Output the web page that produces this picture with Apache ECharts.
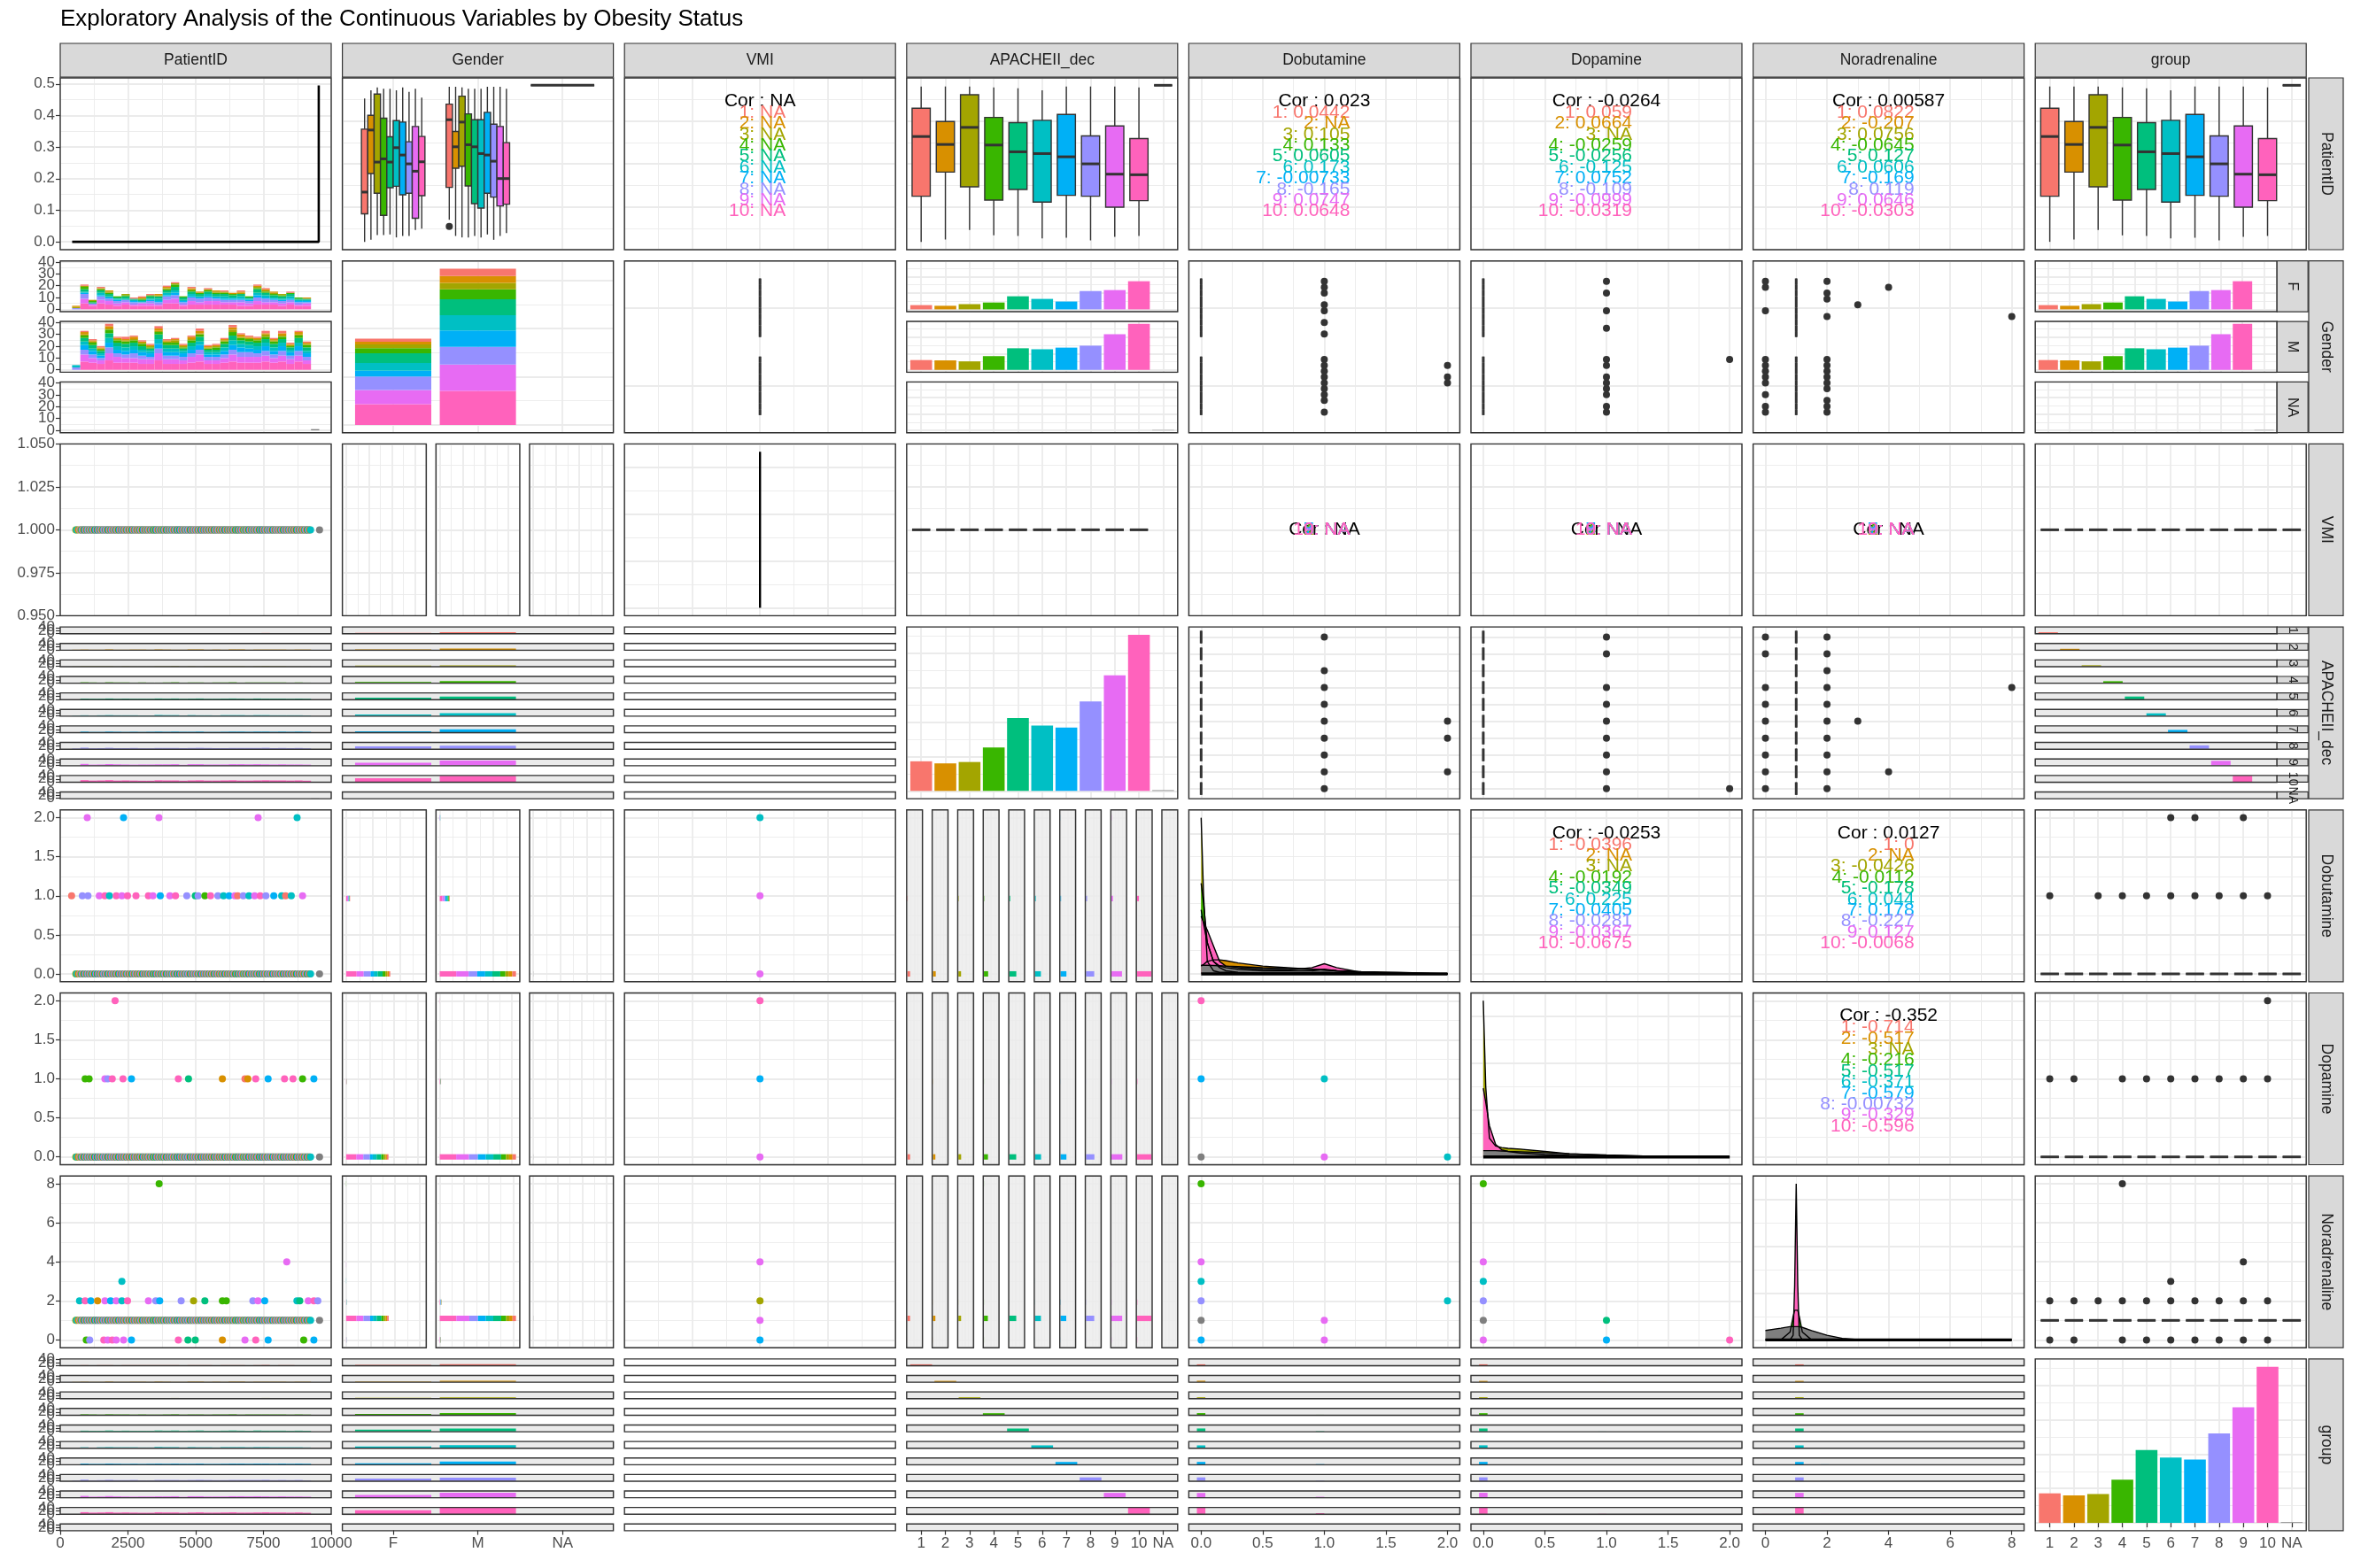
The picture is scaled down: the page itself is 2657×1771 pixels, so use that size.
<!DOCTYPE html>
<html>
<head>
<meta charset="utf-8">
<title>Exploratory Analysis</title>
<script src="https://cdn.jsdelivr.net/npm/echarts@6.0.0/dist/echarts.min.js"></script>
<style>
html,body{margin:0;padding:0;background:#ffffff;}
#chart{width:2657px;height:1771px;}
</style>
</head>
<body>
<div id="chart"></div>
<script>
// ======================= DATA =======================
const titleText = 'Exploratory Analysis of the Continuous Variables by Obesity Status';
const variableNames = ['PatientID','Gender','VMI','APACHEII_dec','Dobutamine','Dopamine','Noradrenaline','group'];
const groupLevels = ['1','2','3','4','5','6','7','8','9','10','NA'];
const genderLevels = ['F','M','NA'];
const groupColors = ['#F8766D','#D89000','#A3A500','#39B600','#00BF7D','#00BFC4','#00B0F6','#9590FF','#E76BF3','#FF62BC'];
const naColor = '#7F7F7F';

// patients per gender and group (group 1..10)
const countF = [13,11,16,21,40,32,24,56,59,86];
const countM = [30,29,26,42,66,63,68,74,109,141];
const countNA = 1; // one patient with NA gender / NA group

// PatientID histogram (30 bins), counts per bin per group
const pidBinStart = 438, pidBinWidth = 304, pidNABin = 29;
const pidHistF = [
 [0,1,1,0,0,0,0,1,0,0],[1,0,1,2,2,1,1,4,4,5],[0,0,1,1,1,0,0,1,1,3],[1,0,1,1,2,2,1,3,3,5],
 [0,1,1,1,2,1,1,2,3,4],[0,0,0,1,1,1,1,2,2,3],[0,0,1,1,2,1,0,2,2,4],[1,0,0,0,1,1,1,2,1,3],
 [1,1,0,1,1,1,0,1,2,3],[1,0,0,1,2,1,1,2,2,3],[0,1,1,0,2,2,1,2,1,3],[1,1,1,1,2,2,1,3,3,5],
 [1,0,1,2,3,2,2,3,4,5],[0,0,0,1,2,1,1,2,1,3],[1,1,1,1,2,2,1,3,3,4],[0,1,0,1,2,1,1,3,2,4],
 [1,0,1,1,2,2,1,3,3,4],[0,1,1,1,2,1,1,2,3,4],[1,0,1,1,2,2,1,2,2,4],[0,1,0,1,2,1,1,2,2,4],
 [1,1,1,0,2,2,1,2,3,3],[0,0,0,1,1,1,1,2,2,3],[1,1,1,1,3,2,2,3,3,4],[1,1,1,1,2,2,1,3,2,4],
 [0,1,1,1,2,1,1,2,2,4],[0,0,1,1,2,1,1,2,2,3],[1,0,0,1,2,2,1,2,2,4],[0,0,0,1,1,1,1,2,1,3],
 [0,1,0,0,1,1,1,1,2,3]];
const pidHistM = [
 [0,0,0,0,0,2,0,2,0,0],[1,2,1,2,3,3,4,4,6,7],[1,1,1,2,3,2,3,3,4,6],[1,1,1,1,2,2,2,2,3,5],
 [2,2,1,3,4,4,4,5,6,8],[1,1,1,2,3,3,3,3,5,6],[2,1,1,2,3,3,3,3,4,6],[1,2,1,2,3,3,3,4,4,6],
 [1,1,1,2,3,2,3,3,4,5],[1,1,1,1,2,2,3,2,4,5],[2,2,1,2,4,4,4,4,6,8],[1,1,1,2,3,3,3,3,4,5],
 [1,1,2,2,3,3,3,3,4,5],[1,1,1,1,2,2,3,3,3,5],[1,2,1,2,3,3,3,3,5,6],[2,2,1,2,4,3,4,4,6,7],
 [1,1,1,1,2,2,2,3,3,5],[1,1,1,2,2,2,2,3,3,5],[1,1,1,2,3,3,3,3,4,6],[2,2,2,3,4,4,4,4,6,7],
 [1,2,1,2,3,3,4,4,5,6],[1,1,1,2,3,3,3,4,5,6],[1,1,1,2,3,3,3,3,5,6],[2,1,2,2,3,3,4,4,5,7],
 [1,1,1,2,3,3,3,3,4,6],[2,2,1,2,3,3,4,4,5,7],[1,1,1,1,2,2,3,3,4,5],[1,2,1,2,4,3,4,4,5,7],
 [1,1,1,2,3,2,3,3,3,5]];

// PatientID boxplot statistics [lower whisker, Q1, median, Q3, upper whisker]
const pidBoxByGroup = [
 [456,3111,6588,8233,9501],[593,4516,6126,7462,9501],[1141,3659,7120,9021,9501],[833,2888,6092,7702,9449],
 [799,3505,5698,7394,9398],[662,2768,5595,7531,9278],[696,3163,5407,7873,9501],[542,3111,4996,6623,9501],
 [747,2477,4396,7205,9501],[799,2854,4362,6469,9449]];
const pidBoxF = [
 [456,2084,3352,7017,8799],[576,4431,6966,7822,9279],[850,3283,5099,9056,9450],[850,1998,5287,7651,9364],
 [885,3609,5099,6573,9364],[713,3694,5938,7514,9279],[799,3197,5510,7429,9450],[799,3283,4996,6281,9193],
 [1142,1827,4568,7172,9364],[1227,3146,5116,6590,8850]];
const pidBoxM = [
 [1741,3626,7565,8473,9484],[799,4739,5989,6881,9484],[713,4859,7429,8936,9450],[713,3711,6110,7908,9364],
 [799,2683,5989,7565,9364],[713,2426,5596,7565,9364],[885,3283,5510,7994,9484],[576,3060,5150,7309,9484],
 [799,2546,4139,7172,9484],[970,2649,4139,6229,9364]];
const pidOutliersM = [[1,1347]];   // [group, PatientID]
const pidNAValue = 9570;

// densities (diagonal)
const pidDensX = [440, 9540, 9540];
const pidDensY = [0, 0, 0.495];
const vmiDensX = [1, 1];
const vmiDensY = [0, 1];
const dobDensX = [0,0.02,0.05,0.1,0.15,0.2,0.3,0.5,0.7,0.9,1.0,1.1,1.3,1.6,2.0];
const dobDensG3  = [1.0,0.5,0.08,0.02,0.01,0.01,0.005,0.005,0.005,0.005,0.005,0.005,0,0,0];
const dobDensG4  = [0.58,0.45,0.2,0.08,0.04,0.02,0.01,0.005,0.005,0.008,0.01,0.008,0.003,0.001,0];
const dobDensG5  = [0.41,0.32,0.2,0.08,0.05,0.04,0.03,0.02,0.02,0.02,0.03,0.02,0.01,0.005,0];
const dobDensG2  = [0.05,0.06,0.08,0.09,0.09,0.085,0.07,0.05,0.04,0.03,0.025,0.02,0.015,0.01,0];
const dobDensG10 = [0.37,0.33,0.28,0.18,0.08,0.05,0.04,0.03,0.025,0.04,0.065,0.04,0.01,0.005,0];
const dobDensNA  = [0.055,0.055,0.055,0.054,0.052,0.05,0.047,0.04,0.035,0.03,0.025,0.02,0.01,0.005,0];
const dopDensX = [0,0.02,0.05,0.1,0.15,0.2,0.3,0.5,0.7,1.0,1.3,1.6,2.0];
const dopDensG3  = [1.0,0.45,0.12,0.07,0.06,0.055,0.05,0.035,0.02,0.01,0.005,0.002,0];
const dopDensG10 = [0.44,0.35,0.2,0.08,0.045,0.035,0.025,0.015,0.01,0.005,0.002,0.001,0];
const dopDensNA  = [0.04,0.04,0.04,0.04,0.038,0.036,0.033,0.027,0.02,0.012,0.006,0.002,0];
const norDensX = [0,0.5,0.8,0.9,0.95,1.0,1.05,1.1,1.2,1.5,2.0,2.5,3.0,4.0,8.0];
const norDensG4  = [0,0,0.05,0.15,0.19,0.2,0.19,0.15,0.05,0,0,0,0,0,0];
const norDensG10 = [0,0,0,0.03,0.35,1.0,0.35,0.03,0,0,0,0,0,0,0];
const norDensNA  = [0.06,0.075,0.085,0.085,0.085,0.085,0.085,0.085,0.08,0.06,0.03,0.01,0.003,0,0];

// drug values other than the usual one, counts per group (1..10)
const dobutamine1F = [2,0,2,0,3,3,0,5,6,8];
const dobutamine1M = [3,0,3,4,7,8,8,10,14,18];
const dobutamine2F = [0,0,0,0,0,0,0,0,0,0];
const dobutamine2M = [0,0,0,0,0,1,1,0,2,0];
const dopamine1F = [0,1,0,0,1,0,0,1,0,2];
const dopamine1M = [1,1,0,1,1,1,1,0,2,3];
const dopamine2F = [0,0,0,0,0,0,0,0,0,0];
const dopamine2M = [0,0,0,0,0,0,0,0,0,1];
const noradrenaline0F = [0,0,0,0,1,0,0,0,1,1];
const noradrenaline0M = [1,1,0,1,0,1,1,1,1,2];
const noradrenaline2F = [0,0,0,1,0,0,1,1,0,1];
const noradrenaline2M = [1,1,1,0,1,2,2,2,2,3];
const noradrenaline3F = [0,0,0,0,0,1,0,0,0,0];
const noradrenaline3M = [0,0,0,0,0,0,0,0,0,0];
const noradrenaline4F = [0,0,0,0,0,0,0,0,1,0];
const noradrenaline4M = [0,0,0,0,0,0,0,0,0,0];
const noradrenaline8F = [0,0,0,1,0,0,0,0,0,0];
const noradrenaline8M = [0,0,0,0,0,0,0,0,0,0];

// scatter points vs PatientID : [PatientID, group]
const dobutamine1Points = [[420,1],[816,8],[1024,8],[1441,9],[1649,10],[1816,6],[2066,10],[2275,9],[2483,10],[2796,10],[3254,10],[3421,9],[3692,7],[4046,9],[4254,10],[4671,8],[4984,5],[5088,8],[5338,4],[5546,10],[5817,8],[6026,6],[6234,7],[6443,9],[6547,1],[6755,8],[6964,6],[7172,9],[7380,10],[7589,8],[7881,7],[8172,6],[8318,1],[8527,6],[8943,9]];
const dobutamine2Points = [[997,9],[2336,7],[3642,9],[7303,9],[8741,6]];
const dopamine1Points = [[920,4],[1066,4],[1649,9],[1754,8],[1920,10],[2316,10],[2629,7],[4359,10],[4734,5],[5984,2],[6818,1],[6922,2],[7214,10],[7672,7],[8277,10],[8590,10],[8943,4],[9360,7]];
const dopamine2Points = [[2025,10]];
const noradrenaline0Points = [[962,4],[1087,8],[1608,10],[1754,9],[1920,10],[2066,9],[2337,9],[2629,7],[4359,10],[4713,5],[4984,5],[5984,2],[6818,9],[7214,10],[7672,7],[8985,4],[9360,7]];
const noradrenaline2Points = [[712,6],[920,10],[1128,7],[1378,2],[1649,9],[1858,7],[2066,9],[2275,6],[2483,10],[3254,9],[3525,8],[3671,7],[4463,8],[4921,3],[5338,5],[5984,4],[6130,4],[7109,8],[7297,9],[7547,7],[8735,6],[8839,5],[9152,9],[9360,10],[9506,8]];
const noradrenaline3Points = [[2275,6]];
const noradrenaline4Points = [[8360,9]];
const noradrenaline8Points = [[3650,4]];

// VMI (always 1) vs drug : [drug value, group shown on top]
const vmiDobutamine = [[0,9],[1,9],[2,6]];
const vmiDopamine = [[0,9],[1,7],[2,10]];
const vmiNoradrenaline = [[0,7],[1,9],[2,3],[4,9]];

// drug vs drug : [x, y, group] (11 = NA)
const dobutamineDopamine = [[0,2,10],[0,1,7],[0,0,11],[1,1,6],[1,0,9],[2,0,6]];
const dobutamineNoradrenaline = [[0,8,4],[0,4,9],[0,3,6],[0,2,8],[0,1,11],[0,0,7],[1,1,9],[1,0,9],[2,2,6]];
const dopamineNoradrenaline = [[0,8,4],[0,4,9],[0,3,6],[0,2,8],[0,1,11],[0,0,9],[1,1,5],[1,0,7],[2,0,10]];

// correlations: overall, then groups 1..10
const corPatientIDVMI = ['NA','NA','NA','NA','NA','NA','NA','NA','NA','NA','NA'];
const corPatientIDDobutamine = ['0.023','0.0442','NA','0.105','0.133','0.0605','0.173','-0.00733','-0.165','0.0747','0.0648'];
const corPatientIDDopamine = ['-0.0264','0.059','0.0664','NA','-0.0259','-0.0256','-0.125','0.0752','-0.109','-0.0999','-0.0319'];
const corPatientIDNoradrenaline = ['0.00587','0.0822','-0.207','0.0756','-0.0645','0.127','0.0606','-0.169','0.119','0.0646','-0.0303'];
const corVMIDobutamine = ['NA','NA','NA','NA','NA','NA','NA','NA','NA','NA','NA'];
const corVMIDopamine = ['NA','NA','NA','NA','NA','NA','NA','NA','NA','NA','NA'];
const corVMINoradrenaline = ['NA','NA','NA','NA','NA','NA','NA','NA','NA','NA','NA'];
const corDobutamineDopamine = ['-0.0253','-0.0396','NA','NA','-0.0192','-0.0349','0.225','-0.0405','-0.0281','-0.0367','-0.0675'];
const corDobutamineNoradrenaline = ['0.0127','0','NA','-0.0426','-0.0112','-0.178','0.044','0.178','-0.227','0.127','-0.0068'];
const corDopamineNoradrenaline = ['-0.352','-0.714','-0.517','NA','-0.216','-0.517','-0.371','-0.579','-0.00732','-0.329','-0.596'];

// ======================= BUILD =======================
const FONT = "'Liberation Sans', Arial, Helvetica, sans-serif";
const COL = groupColors.concat([naColor]);
const NAI = 10;
const G10 = [0,1,2,3,4,5,6,7,8,9];
const PW = 306, PH = 194, GAP = 11;
const colX = j => 68 + j * 318.6;
const rowY = i => 88 + i * 206.7;
const RSX = 2607, RSW = 39;
const TINY_BG = '#EBEBEB', NARROW_BG = '#EFEFEF';

const grids = [], xAxis = [], yAxis = [], extraY = [], series = [], gfx = [];

const AX = {
  pid:    {min:0, max:10000, interval:2500, minor:true, ticks:[0,2500,5000,7500,10000], fmt:v=>String(v)},
  pidV:   {min:0, max:10000, interval:2500, minor:true},
  pidDens:{min:-0.025, max:0.519, splitNumber:5, minor:true, ticks:[0,0.1,0.2,0.3,0.4,0.5], fmt:v=>v.toFixed(1)},
  vmi:    {min:0.95, max:1.05, interval:0.025, minor:true, ticks:[0.95,0.975,1,1.025,1.05], fmt:v=>v.toFixed(3)},
  drug:   {min:-0.1, max:2.1, splitNumber:4, minor:true, ticks:[0,0.5,1,1.5,2], fmt:v=>v.toFixed(1)},
  nor:    {min:-0.4, max:8.4, splitNumber:4, minor:true, ticks:[0,2,4,6,8], fmt:v=>String(v)},
  gender3:{min:0.4, max:3.6, splitNumber:3, ticks:[1,2,3], fmt:v=>genderLevels[Math.round(v)-1]},
  gender2:{min:0.4, max:2.6, splitNumber:2, inverse:true},
  cat11:  {min:0.4, max:11.6, splitNumber:11, ticks:[1,2,3,4,5,6,7,8,9,10,11], fmt:v=>groupLevels[Math.round(v)-1]},
  cat10r: {min:0.4, max:10.6, splitNumber:10, inverse:true},
  dens:   {min:-0.05, max:1.05, splitNumber:4, minor:true},
  cnt40:  {min:-2, max:41, splitNumber:4, minor:true, ticks:[0,10,20,30,40], groups:[[0,20,40],[10,30]], fmt:v=>String(v)},
  cnt44:  {min:-2.2, max:44, splitNumber:2, minor:true, ticks:[0,20,40], groups:[[0],[20],[40]], fmt:v=>String(v)},
  unit:   {min:-0.05, max:1.05, splitNumber:4, minor:true},
  none:   {min:0, max:1, grid:false}
};
const cnt = (m, s) => ({min:-0.05*m, max:1.05*m, splitNumber:s||3, minor:true});

function axisFrom(spec, gi, show, pos, tickList, labelOnly) {
  const ticks = tickList || spec.ticks || [];
  const fmt = spec.fmt || (v => String(v));
  const lab = v => { for (const t of ticks) { if (Math.abs(v - t) < 1e-7 * Math.max(1, Math.abs(t))) return fmt(t); } return ''; };
  const gridOn = spec.grid !== false && !labelOnly;
  const a = {
    type:'value', gridIndex:gi, position:pos, offset:0, min:spec.min, max:spec.max, inverse:!!spec.inverse,
    axisLine:{show:false},
    axisTick:{show:!!show, length:5, interval:0, lineStyle:{color:'#333333', width:1.2}},
    axisLabel:{show:!!show, color:'#4D4D4D', fontSize:17, fontFamily:FONT, margin:6, formatter:lab, interval:0,
      showMinLabel:true, showMaxLabel:true, hideOverlap:false},
    splitLine:{show: gridOn, lineStyle:{color:'#EBEBEB', width:1.8}},
    minorTick:{show:false, splitNumber:2},
    minorSplitLine:{show: !!spec.minor && gridOn, lineStyle:{color:'#EBEBEB', width:0.9}},
    silent:true
  };
  if (show && ticks.length) { a.axisLabel.customValues = ticks; a.axisTick.customValues = ticks; }
  if (spec.interval) a.interval = spec.interval;
  if (spec.splitNumber) a.splitNumber = spec.splitNumber;
  return a;
}
function addGrid(x, y, w, h, xs, ys, o) {
  o = o || {};
  const gi = grids.length;
  grids.push({left:x, top:y, width:w, height:h, show:true, backgroundColor:o.bg || '#FFFFFF', borderWidth:0});
  xAxis.push(axisFrom(xs, gi, o.xLab, 'bottom'));
  if (o.yLab && ys.groups) {
    yAxis.push(axisFrom(ys, gi, true, 'left', ys.groups[0]));
    ys.groups.slice(1).forEach(grp => extraY.push(axisFrom(ys, gi, true, 'left', grp, true)));
  } else {
    yAxis.push(axisFrom(ys, gi, o.yLab, 'left'));
  }
  gfx.push({type:'rect', silent:true, z:60, shape:{x:x, y:y, width:w, height:h}, style:{fill:'rgba(0,0,0,0)', stroke:'#333333', lineWidth:1.4}});
  return gi;
}
function vfacets(x, y, w, n, xs, ys, o) {
  o = o || {};
  const h = (PH - (n-1)*GAP)/n, ids = [];
  for (let k=0; k<n; k++) ids.push(addGrid(x, y + k*(h+GAP), w, h, xs, ys, {xLab: o.xLab && k===n-1, yLab: o.yLab, bg:o.bg}));
  return ids;
}
function hfacets(x, y, n, xs, ys, o) {
  o = o || {};
  const w = (PW - (n-1)*GAP)/n, ids = [];
  for (let k=0; k<n; k++) ids.push(addGrid(x + k*(w+GAP), y, w, PH, xs, ys, {xLab: o.xLab, yLab: o.yLab && k===0, bg:o.bg}));
  return ids;
}
function txt(x, y, text, color, size, align, rot) {
  return {type:'text', x:x, y:y, rotation:rot||0, silent:true, z:70,
    style:{text:text, fill:color, fontSize:size, fontFamily:FONT, align:align, verticalAlign:'middle'}};
}
function rectRender(params, api) {
  const a = api.coord([api.value(0), api.value(2)]);
  const b = api.coord([api.value(1), api.value(3)]);
  return {type:'rect', shape:{x:Math.min(a[0],b[0]), y:Math.min(a[1],b[1]), width:Math.abs(b[0]-a[0]), height:Math.abs(b[1]-a[1])},
    style:{fill:COL[api.value(4)]}};
}
function boxRender(params, api) {
  const v = i => api.value(i);
  const pos=v(0), hw=v(1), lo=v(2), q1=v(3), med=v(4), q3=v(5), hi=v(6), ci=v(7), hor=v(8);
  const P = (c, val) => hor ? api.coord([val, c]) : api.coord([c, val]);
  const a = P(pos-hw, q1), b = P(pos+hw, q3), m1 = P(pos-hw, med), m2 = P(pos+hw, med);
  const w1 = P(pos, lo), w2 = P(pos, q1), w3 = P(pos, q3), w4 = P(pos, hi);
  const ls = {stroke:'#333333', lineWidth:1.4};
  return {type:'group', children:[
    {type:'line', shape:{x1:w1[0], y1:w1[1], x2:w2[0], y2:w2[1]}, style:ls},
    {type:'line', shape:{x1:w3[0], y1:w3[1], x2:w4[0], y2:w4[1]}, style:ls},
    {type:'rect', shape:{x:Math.min(a[0],b[0]), y:Math.min(a[1],b[1]), width:Math.abs(b[0]-a[0]), height:Math.abs(b[1]-a[1])},
      style:{fill:COL[ci], stroke:'#333333', lineWidth:1.4}},
    {type:'line', shape:{x1:m1[0], y1:m1[1], x2:m2[0], y2:m2[1]}, style:{stroke:'#333333', lineWidth:3}}
  ]};
}
function addRects(gi, data) {
  if (!data.length) return;
  series.push({type:'custom', coordinateSystem:'cartesian2d', xAxisIndex:gi, yAxisIndex:gi, renderItem:rectRender, data:data, silent:true, z:2});
}
function addBoxes(gi, data) {
  series.push({type:'custom', coordinateSystem:'cartesian2d', xAxisIndex:gi, yAxisIndex:gi, renderItem:boxRender, data:data, silent:true, z:3});
}
function addPoints(gi, data, size) {
  if (!data.length) return;
  series.push({type:'scatter', xAxisIndex:gi, yAxisIndex:gi, data:data, symbol:'circle', symbolSize:size||8, silent:true, z:4, itemStyle:{opacity:1}});
}
function addLine(gi, xs, ys, fill, width) {
  const s = {type:'line', xAxisIndex:gi, yAxisIndex:gi, data:xs.map((x,i)=>[x, ys[i]]), symbol:'none', silent:true, z:3,
    lineStyle:{color:'#000000', width:width||1.4}};
  if (fill) s.areaStyle = {color:fill, opacity:1};
  series.push(s);
}
const pt = (x, y, ci) => ({value:[x, y], itemStyle:{color:COL[ci]}});
const dk = (x, y) => ({value:[x, y], itemStyle:{color:'#333333'}});
const offV = g => -0.375 + (g + 0.5) * 0.075;
const offH = g => -0.375 + (9 - g + 0.5) * 0.075;
const sum = a => a.reduce((s, v) => s + v, 0);
const totals = G10.map(g => countF[g] + countM[g]);

function corText(i, j, vals, collapsed) {
  const cx = colX(j) + PW/2, top = rowY(i);
  gfx.push(txt(cx, collapsed ? top + PH/2 : top + 26, 'Cor : ' + vals[0], '#000000', 21, 'center'));
  for (let k=0; k<10; k++) gfx.push(txt(cx + 29, collapsed ? top + PH/2 : top + 39 + k*12.4, (k+1) + ': ' + vals[k+1], groupColors[k], 21, 'right'));
}
function stackedHist(hist) {
  const out = [];
  hist.forEach((row, k) => {
    const x0 = pidBinStart + k*pidBinWidth, x1 = x0 + pidBinWidth;
    let base = 0;
    for (let g=9; g>=0; g--) { const c = row[g]; if (c > 0) { out.push([x0, x1, base, base + c, g]); base += c; } }
  });
  return out;
}
function groupHist(g) {
  const out = [];
  pidHistF.forEach((row, k) => {
    const c = row[g] + pidHistM[k][g];
    if (c > 0) out.push([pidBinStart + k*pidBinWidth, pidBinStart + (k+1)*pidBinWidth, 0, c, g]);
  });
  return out;
}
const naHist = () => [[pidBinStart + pidNABin*pidBinWidth, pidBinStart + (pidNABin+1)*pidBinWidth, 0, countNA, NAI]];
function bandPoints(yv) {
  const out = [];
  for (let k=0; k<pidHistF.length; k++) {
    const x0 = pidBinStart + k*pidBinWidth;
    for (let t=0; t<10; t++) {
      const g = (t*3 + k) % 10;
      if (pidHistF[k][g] + pidHistM[k][g] > 0) out.push(pt(x0 + (t + 0.5)/10*pidBinWidth, yv, g));
    }
  }
  out.push(pt(pidNAValue, yv, NAI));
  return out;
}
const binCenter = (v, w) => Math.ceil(v / w - 0.5 - 1e-9) * w;

const DRUGS = [
  {name:'Dobutamine', main:0, ax:AX.drug, w:2/29, xmax:2,
   other:[{v:1, F:dobutamine1F, M:dobutamine1M}, {v:2, F:dobutamine2F, M:dobutamine2M}],
   vmi:vmiDobutamine, pid:[[1, dobutamine1Points],[2, dobutamine2Points]]},
  {name:'Dopamine', main:0, ax:AX.drug, w:2/29, xmax:2,
   other:[{v:1, F:dopamine1F, M:dopamine1M}, {v:2, F:dopamine2F, M:dopamine2M}],
   vmi:vmiDopamine, pid:[[1, dopamine1Points],[2, dopamine2Points]]},
  {name:'Noradrenaline', main:1, ax:AX.nor, w:8/29, xmax:8,
   other:[{v:0, F:noradrenaline0F, M:noradrenaline0M}, {v:2, F:noradrenaline2F, M:noradrenaline2M},
          {v:3, F:noradrenaline3F, M:noradrenaline3M}, {v:4, F:noradrenaline4F, M:noradrenaline4M},
          {v:8, F:noradrenaline8F, M:noradrenaline8M}],
   vmi:vmiNoradrenaline, pid:[[0, noradrenaline0Points],[2, noradrenaline2Points],[3, noradrenaline3Points],[4, noradrenaline4Points],[8, noradrenaline8Points]]}
];
DRUGS.forEach(d => {
  d.mainF = G10.map(g => countF[g] - sum(d.other.map(o => o.F[g])));
  d.mainM = G10.map(g => countM[g] - sum(d.other.map(o => o.M[g])));
  d.mainT = G10.map(g => d.mainF[g] + d.mainM[g]);
});

// ---------------- Row 0 : PatientID ----------------
(function(){
  const y = rowY(0);
  let gi = addGrid(colX(0), y, PW, PH, AX.pid, AX.pidDens, {yLab:true});
  addLine(gi, pidDensX, pidDensY, null, 2.6);

  gi = addGrid(colX(1), y, PW, PH, AX.gender3, AX.pidV);
  const bx = [];
  G10.forEach(g => {
    bx.push([1 + offV(g), 0.0375].concat(pidBoxF[g], [g, 0]));
    bx.push([2 + offV(g), 0.0375].concat(pidBoxM[g], [g, 0]));
  });
  bx.push([3, 0.375, pidNAValue, pidNAValue, pidNAValue, pidNAValue, pidNAValue, NAI, 0]);
  addBoxes(gi, bx);
  addPoints(gi, pidOutliersM.map(o => dk(2 + offV(o[0]-1), o[1])), 8);

  addGrid(colX(2), y, PW, PH, AX.vmi, AX.pidV); corText(0, 2, corPatientIDVMI, false);

  [3, 7].forEach(j => {
    const g2 = addGrid(colX(j), y, PW, PH, AX.cat11, AX.pidV);
    const b = G10.map(g => [g + 1, 0.375].concat(pidBoxByGroup[g], [g, 0]));
    b.push([11, 0.375, pidNAValue, pidNAValue, pidNAValue, pidNAValue, pidNAValue, NAI, 0]);
    addBoxes(g2, b);
  });
  addGrid(colX(4), y, PW, PH, AX.drug, AX.pidV); corText(0, 4, corPatientIDDobutamine, false);
  addGrid(colX(5), y, PW, PH, AX.drug, AX.pidV); corText(0, 5, corPatientIDDopamine, false);
  addGrid(colX(6), y, PW, PH, AX.nor, AX.pidV); corText(0, 6, corPatientIDNoradrenaline, false);
})();

// ---------------- Row 1 : Gender ----------------
(function(){
  const y = rowY(1);
  const f = vfacets(colX(0), y, PW, 3, AX.pid, AX.cnt40, {yLab:true});
  addRects(f[0], stackedHist(pidHistF));
  addRects(f[1], stackedHist(pidHistM));
  addRects(f[2], naHist());

  const mTot = Math.max(sum(countF), sum(countM));
  let gi = addGrid(colX(1), y, PW, PH, AX.gender3, cnt(mTot, 3));
  const st = [];
  [countF, countM].forEach((arr, p) => {
    let base = 0;
    for (let g=9; g>=0; g--) { st.push([p + 1 - 0.45, p + 1 + 0.45, base, base + arr[g], g]); base += arr[g]; }
  });
  addRects(gi, st);

  gi = addGrid(colX(2), y, PW, PH, AX.vmi, AX.gender2);
  const vb = [];
  [1, 2].forEach(p => G10.forEach(g => vb.push([p + offH(g), 0.0375, 1, 1, 1, 1, 1, g, 1])));
  addBoxes(gi, vb);

  const mC = Math.max(Math.max.apply(null, countF), Math.max.apply(null, countM));
  const barsBy = arr => G10.map(g => [g + 1 - 0.45, g + 1 + 0.45, 0, arr[g], g]);
  const f4 = vfacets(colX(3), y, PW, 3, AX.cat11, cnt(mC, 3));
  addRects(f4[0], barsBy(countF)); addRects(f4[1], barsBy(countM)); addRects(f4[2], [[11 - 0.45, 11 + 0.45, 0, countNA, NAI]]);

  DRUGS.forEach((d, di) => {
    const g2 = addGrid(colX(4 + di), y, PW, PH, d.ax, AX.gender2);
    const b = [];
    [1, 2].forEach(p => G10.forEach(g => b.push([p + offH(g), 0.0375, d.main, d.main, d.main, d.main, d.main, g, 1])));
    addBoxes(g2, b);
    const outs = [];
    d.other.forEach(o => G10.forEach(g => {
      if (o.F[g] > 0) outs.push(dk(o.v, 1 + offH(g)));
      if (o.M[g] > 0) outs.push(dk(o.v, 2 + offH(g)));
    }));
    addPoints(g2, outs, 8);
  });

  const f8 = vfacets(colX(7), y, 273, 3, AX.cat11, cnt(mC, 3));
  addRects(f8[0], barsBy(countF)); addRects(f8[1], barsBy(countM)); addRects(f8[2], [[11 - 0.45, 11 + 0.45, 0, countNA, NAI]]);
  const h = (PH - 2*GAP)/3;
  genderLevels.forEach((lv, k) => {
    const sy = y + k*(h + GAP);
    gfx.push({type:'rect', silent:true, z:65, shape:{x:colX(7) + 273, y:sy, width:35, height:h}, style:{fill:'#D9D9D9', stroke:'#333333', lineWidth:1.2}});
    gfx.push(txt(colX(7) + 273 + 17.5, sy + h/2, lv, '#1A1A1A', 16, 'center', -Math.PI/2));
  });
})();

// ---------------- Row 2 : VMI ----------------
(function(){
  const y = rowY(2);
  let gi = addGrid(colX(0), y, PW, PH, AX.pid, AX.vmi, {yLab:true});
  addPoints(gi, bandPoints(1), 8);
  hfacets(colX(1), y, 3, AX.unit, AX.vmi);
  gi = addGrid(colX(2), y, PW, PH, AX.vmi, AX.dens);
  addLine(gi, vmiDensX, vmiDensY, null, 2.4);
  gi = addGrid(colX(3), y, PW, PH, AX.cat11, AX.vmi);
  addBoxes(gi, G10.map(g => [g + 1, 0.375, 1, 1, 1, 1, 1, g, 0]));
  addGrid(colX(4), y, PW, PH, AX.drug, AX.vmi); corText(2, 4, corVMIDobutamine, true);
  addGrid(colX(5), y, PW, PH, AX.drug, AX.vmi); corText(2, 5, corVMIDopamine, true);
  addGrid(colX(6), y, PW, PH, AX.nor, AX.vmi); corText(2, 6, corVMINoradrenaline, true);
  gi = addGrid(colX(7), y, PW, PH, AX.cat11, AX.vmi);
  const b = G10.map(g => [g + 1, 0.375, 1, 1, 1, 1, 1, g, 0]);
  b.push([11, 0.375, 1, 1, 1, 1, 1, NAI, 0]);
  addBoxes(gi, b);
})();

// ---------------- Row 3 : APACHEII_dec ----------------
(function(){
  const y = rowY(3);
  const f1 = vfacets(colX(0), y, PW, 11, AX.pid, AX.cnt44, {yLab:true, bg:TINY_BG});
  G10.forEach(g => addRects(f1[g], groupHist(g)));
  addRects(f1[10], naHist());

  const mC = Math.max(Math.max.apply(null, countF), Math.max.apply(null, countM));
  const f2 = vfacets(colX(1), y, PW, 11, AX.gender3, cnt(mC, 3), {bg:TINY_BG});
  G10.forEach(g => addRects(f2[g], [[1 - 0.45, 1 + 0.45, 0, countF[g], g], [2 - 0.45, 2 + 0.45, 0, countM[g], g]]));
  addRects(f2[10], [[3 - 0.45, 3 + 0.45, 0, countNA, NAI]]);

  vfacets(colX(2), y, PW, 11, AX.none, AX.none);

  const mT = Math.max.apply(null, totals);
  let gi = addGrid(colX(3), y, PW, PH, AX.cat11, cnt(mT, 4));
  const tb = G10.map(g => [g + 1 - 0.45, g + 1 + 0.45, 0, totals[g], g]);
  tb.push([11 - 0.45, 11 + 0.45, 0, countNA, NAI]);
  addRects(gi, tb);

  DRUGS.forEach((d, di) => {
    const g2 = addGrid(colX(4 + di), y, PW, PH, d.ax, AX.cat10r);
    addBoxes(g2, G10.map(g => [g + 1, 0.375, d.main, d.main, d.main, d.main, d.main, g, 1]));
    const outs = [];
    d.other.forEach(o => G10.forEach(g => { if (o.F[g] + o.M[g] > 0) outs.push(dk(o.v, g + 1)); }));
    addPoints(g2, outs, 8);
  });

  const f8 = vfacets(colX(7), y, 273, 11, AX.cat11, cnt(mT, 4), {bg:TINY_BG});
  G10.forEach(g => addRects(f8[g], [[g + 1 - 0.45, g + 1 + 0.45, 0, totals[g], g]]));
  addRects(f8[10], [[11 - 0.45, 11 + 0.45, 0, countNA, NAI]]);
  const h = (PH - 10*GAP)/11;
  groupLevels.forEach((lv, k) => {
    const sy = y + k*(h + GAP);
    gfx.push({type:'rect', silent:true, z:65, shape:{x:colX(7) + 273, y:sy, width:35, height:h}, style:{fill:'#D9D9D9', stroke:'#333333', lineWidth:1.2}});
    gfx.push(txt(colX(7) + 273 + 17.5, sy + h/2, lv, '#1A1A1A', 14, 'center', -Math.PI/2));
  });
})();

// ---------------- Rows 4-6 : drugs ----------------
DRUGS.forEach((d, di) => {
  const i = 4 + di, y = rowY(i), hb = d.w/2;
  let gi = addGrid(colX(0), y, PW, PH, AX.pid, d.ax, {yLab:true});
  const pts = bandPoints(d.main);
  d.pid.forEach(pp => pp[1].forEach(q => pts.push(pt(q[0], pp[0], q[1] - 1))));
  addPoints(gi, pts, 8);

  const mG = Math.max(sum(d.mainF), sum(d.mainM));
  const fg = hfacets(colX(1), y, 3, cnt(mG, 3), d.ax);
  [[d.mainF, 'F'], [d.mainM, 'M']].forEach((pair, p) => {
    const out = [];
    const cm = binCenter(d.main, d.w);
    let base = 0;
    for (let g=9; g>=0; g--) { const c = pair[0][g]; if (c > 0) { out.push([base, base + c, cm - hb, cm + hb, g]); base += c; } }
    d.other.forEach(o => {
      const arr = o[pair[1]], co = binCenter(o.v, d.w);
      let b2 = 0;
      for (let g=9; g>=0; g--) { const c = arr[g]; if (c > 0) { out.push([b2, b2 + c, co - hb, co + hb, g]); b2 += c; } }
    });
    addRects(fg[p], out);
  });
  addRects(fg[2], [[0, countNA, binCenter(d.main, d.w) - hb, binCenter(d.main, d.w) + hb, NAI]]);

  gi = addGrid(colX(2), y, PW, PH, AX.vmi, d.ax);
  addPoints(gi, d.vmi.map(q => pt(1, q[0], q[1] - 1)), 8);

  const mA = Math.max.apply(null, d.mainT);
  const fa = hfacets(colX(3), y, 11, cnt(mA, 3), d.ax, {bg:NARROW_BG});
  G10.forEach(g => {
    const out = [];
    const cm = binCenter(d.main, d.w);
    out.push([0, d.mainT[g], cm - hb, cm + hb, g]);
    d.other.forEach(o => { const c = o.F[g] + o.M[g]; if (c > 0) { const co = binCenter(o.v, d.w); out.push([0, c, co - hb, co + hb, g]); } });
    addRects(fa[g], out);
  });
  addRects(fa[10], [[0, countNA, binCenter(d.main, d.w) - hb, binCenter(d.main, d.w) + hb, NAI]]);
});

(function(){
  const y = rowY(4);
  let gi = addGrid(colX(4), y, PW, PH, AX.drug, AX.dens);
  addLine(gi, dobDensX, dobDensG3, COL[2]);
  addLine(gi, dobDensX, dobDensG4, COL[3]);
  addLine(gi, dobDensX, dobDensG5, COL[4]);
  addLine(gi, dobDensX, dobDensG2, COL[1]);
  addLine(gi, dobDensX, dobDensG10, COL[9]);
  addLine(gi, dobDensX, dobDensNA, COL[NAI]);
  addLine(gi, [0, 2], [0, 0], null, 3.4);
  addGrid(colX(5), y, PW, PH, AX.drug, AX.drug); corText(4, 5, corDobutamineDopamine, false);
  addGrid(colX(6), y, PW, PH, AX.nor, AX.drug); corText(4, 6, corDobutamineNoradrenaline, false);
})();
(function(){
  const y = rowY(5);
  let gi = addGrid(colX(4), y, PW, PH, AX.drug, AX.drug);
  addPoints(gi, dobutamineDopamine.map(q => pt(q[0], q[1], q[2] - 1)), 8);
  gi = addGrid(colX(5), y, PW, PH, AX.drug, AX.dens);
  addLine(gi, dopDensX, dopDensG3, COL[2]);
  addLine(gi, dopDensX, dopDensG10, COL[9]);
  addLine(gi, dopDensX, dopDensNA, COL[NAI]);
  addLine(gi, [0, 2], [0, 0], null, 3.4);
  addGrid(colX(6), y, PW, PH, AX.nor, AX.drug); corText(5, 6, corDopamineNoradrenaline, false);
})();
(function(){
  const y = rowY(6);
  let gi = addGrid(colX(4), y, PW, PH, AX.drug, AX.nor);
  addPoints(gi, dobutamineNoradrenaline.map(q => pt(q[0], q[1], q[2] - 1)), 8);
  gi = addGrid(colX(5), y, PW, PH, AX.drug, AX.nor);
  addPoints(gi, dopamineNoradrenaline.map(q => pt(q[0], q[1], q[2] - 1)), 8);
  gi = addGrid(colX(6), y, PW, PH, AX.nor, AX.dens);
  addLine(gi, norDensX, norDensG4, COL[3]);
  addLine(gi, norDensX, norDensG10, COL[9]);
  addLine(gi, norDensX, norDensNA, COL[NAI]);
  addLine(gi, [0, 8], [0, 0], null, 3.4);
})();
DRUGS.forEach((d, di) => {
  const gi = addGrid(colX(7), rowY(4 + di), PW, PH, AX.cat11, d.ax);
  const b = G10.map(g => [g + 1, 0.375, d.main, d.main, d.main, d.main, d.main, g, 0]);
  b.push([11, 0.375, d.main, d.main, d.main, d.main, d.main, NAI, 0]);
  addBoxes(gi, b);
  const outs = [];
  d.other.forEach(o => G10.forEach(g => { if (o.F[g] + o.M[g] > 0) outs.push(dk(g + 1, o.v)); }));
  addPoints(gi, outs, 8);
});

// ---------------- Row 7 : group ----------------
(function(){
  const y = rowY(7);
  const f1 = vfacets(colX(0), y, PW, 11, AX.pid, AX.cnt44, {yLab:true, xLab:true, bg:TINY_BG});
  G10.forEach(g => addRects(f1[g], groupHist(g)));
  addRects(f1[10], naHist());

  const mC = Math.max(Math.max.apply(null, countF), Math.max.apply(null, countM));
  const f2 = vfacets(colX(1), y, PW, 11, AX.gender3, cnt(mC, 3), {xLab:true, bg:TINY_BG});
  G10.forEach(g => addRects(f2[g], [[1 - 0.45, 1 + 0.45, 0, countF[g], g], [2 - 0.45, 2 + 0.45, 0, countM[g], g]]));
  addRects(f2[10], [[3 - 0.45, 3 + 0.45, 0, countNA, NAI]]);

  vfacets(colX(2), y, PW, 11, AX.none, AX.none);

  const mT = Math.max.apply(null, totals);
  const f4 = vfacets(colX(3), y, PW, 11, AX.cat11, cnt(mT, 4), {xLab:true, bg:TINY_BG});
  G10.forEach(g => addRects(f4[g], [[g + 1 - 0.45, g + 1 + 0.45, 0, totals[g], g]]));
  addRects(f4[10], [[11 - 0.45, 11 + 0.45, 0, countNA, NAI]]);

  DRUGS.forEach((d, di) => {
    const hb = d.w/2;
    const mA = Math.max.apply(null, d.mainT);
    const ff = vfacets(colX(4 + di), y, PW, 11, d.ax, cnt(mA, 3), {xLab:true, bg:TINY_BG});
    G10.forEach(g => {
      const cm = binCenter(d.main, d.w);
      const out = [[cm - hb, cm + hb, 0, d.mainT[g], g]];
      d.other.forEach(o => { const c = o.F[g] + o.M[g]; if (c > 0) { const co = binCenter(o.v, d.w); out.push([co - hb, co + hb, 0, c, g]); } });
      addRects(ff[g], out);
    });
    const cm = binCenter(d.main, d.w);
    addRects(ff[10], [[cm - hb, cm + hb, 0, countNA, NAI]]);
  });

  const gi = addGrid(colX(7), y, PW, PH, AX.cat11, cnt(mT, 4), {xLab:true});
  const tb = G10.map(g => [g + 1 - 0.45, g + 1 + 0.45, 0, totals[g], g]);
  tb.push([11 - 0.45, 11 + 0.45, 0, countNA, NAI]);
  addRects(gi, tb);
})();

// ---------------- strips & title ----------------
variableNames.forEach((name, j) => {
  gfx.push({type:'rect', silent:true, z:65, shape:{x:colX(j), y:49, width:PW, height:38}, style:{fill:'#D9D9D9', stroke:'#333333', lineWidth:1.2}});
  gfx.push(txt(colX(j) + PW/2, 68, name, '#1A1A1A', 17.5, 'center'));
});
variableNames.forEach((name, i) => {
  gfx.push({type:'rect', silent:true, z:65, shape:{x:RSX, y:rowY(i), width:RSW, height:PH}, style:{fill:'#D9D9D9', stroke:'#333333', lineWidth:1.2}});
  gfx.push(txt(RSX + RSW/2, rowY(i) + PH/2, name, '#1A1A1A', 17.5, 'center', -Math.PI/2));
});
gfx.push(txt(68, 22, titleText, '#000000', 26, 'left'));

const chart = echarts.init(document.getElementById('chart'), null, {renderer:'canvas', width:2657, height:1771});
chart.setOption({
  animation:false,
  backgroundColor:'#FFFFFF',
  grid:grids, xAxis:xAxis, yAxis:yAxis.concat(extraY), series:series,
  graphic:{elements:gfx}
});
</script>
</body>
</html>
